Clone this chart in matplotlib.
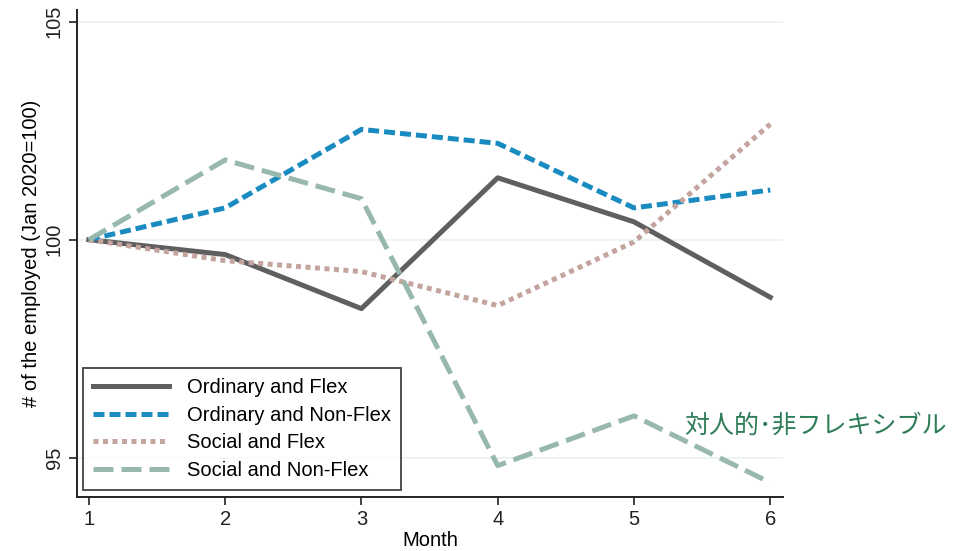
"""Employment index by job type, Jan 2020 = 100."""
import matplotlib
matplotlib.use("Agg")
import matplotlib.pyplot as plt

plt.rcParams["font.family"] = ["Liberation Sans", "DejaVu Sans"]

months = [1, 2, 3, 4, 5, 6]
ordinary_flex = [100, 99.66, 98.42, 101.42, 100.41, 98.68]
ordinary_nonflex = [100, 100.73, 102.53, 102.21, 100.73, 101.14]
social_flex = [100, 99.52, 99.27, 98.49, 99.95, 102.65]
social_nonflex = [100, 101.83, 100.94, 94.82, 95.96, 94.43]
yticks = [95, 100, 105]

fig = plt.figure(figsize=(9.61, 5.51), dpi=100)
ax = fig.add_axes([0.080, 0.098, 0.735, 0.884])

for y in yticks:
    ax.axhline(y, color="#e8f1f3", lw=1.2, zorder=0)

lw = 3.6
ax.plot(months, ordinary_flex, color="#5f5f5f", lw=lw, label="Ordinary and Flex")
ax.plot(months, ordinary_nonflex, color="#1a8bc0", lw=lw, dashes=(2.2, 1.0),
        label="Ordinary and Non-Flex")
ax.plot(months, social_flex, color="#c4a49e", lw=lw, dashes=(1.0, 0.9),
        label="Social and Flex")
ax.plot(months, social_nonflex, color="#98b8ad", lw=lw, dashes=(4.0, 1.6),
        label="Social and Non-Flex")

ax.set_xlim(0.912, 6.095)
ax.set_ylim(94.1, 105.27)
ax.set_xticks(months)
ax.set_yticks(yticks)
ax.set_yticklabels([str(v) for v in yticks], rotation=90, va="center")
ax.tick_params(labelsize=14.5, length=6, width=1.2, colors="#222222")
ax.spines["top"].set_visible(False)
ax.spines["right"].set_visible(False)
for s in ("left", "bottom"):
    ax.spines[s].set_linewidth(1.4)
    ax.spines[s].set_color("#222222")

ax.set_xlabel("Month", fontsize=14.5, labelpad=1)
ax.set_ylabel("# of the employed (Jan 2020=100)", fontsize=14.5, labelpad=3)

leg = ax.legend(loc="lower left", bbox_to_anchor=(0.008, 0.015), fontsize=14.5,
                frameon=True, fancybox=False, edgecolor="#222222",
                handlelength=3.8, handletextpad=0.9, borderpad=0.5,
                labelspacing=0.42, borderaxespad=0)
leg.get_frame().set_linewidth(1.4)

fig.text(0.712, 0.228, "対人的･非フレキシブル", color="#2e7d57", fontsize=18,
         family=["Noto Sans CJK JP", "DejaVu Sans"], va="center", ha="left")

fig.savefig("out.png", dpi=100)
